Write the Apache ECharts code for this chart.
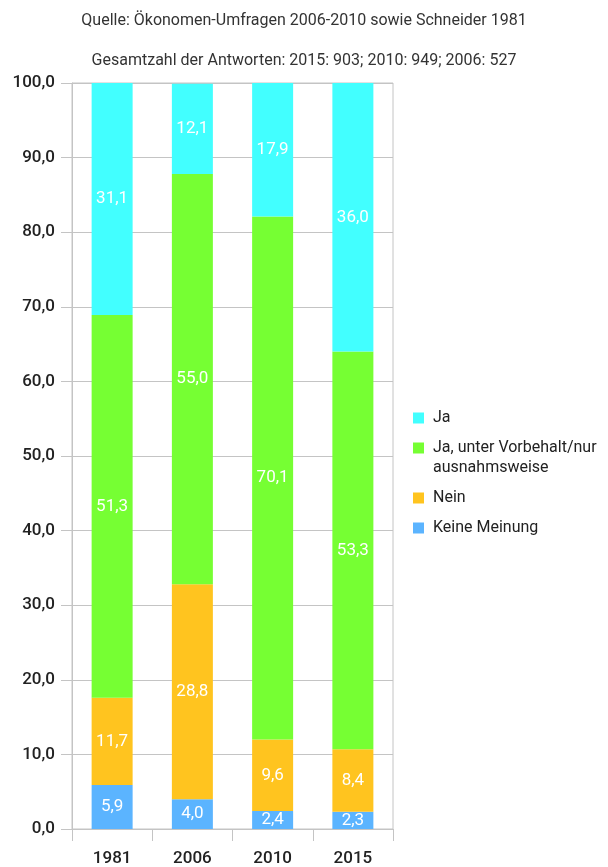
<!DOCTYPE html>
<html><head><meta charset="utf-8">
<script src="https://cdn.jsdelivr.net/npm/echarts@6/dist/echarts.min.js"></script>
<style>html,body{margin:0;padding:0;background:#fff}#c{width:608px;height:867px}</style>
</head><body><div id="c"></div>
<script>
const categories = ['1981', '2006', '2010', '2015'];
const keineMeinung = [5.9, 4.0, 2.4, 2.3];
const nein = [11.7, 28.8, 9.6, 8.4];
const jaVorbehalt = [51.3, 55.0, 70.1, 53.3];
const ja = [31.1, 12.1, 17.9, 36.0];
const seriesNames = ['Keine Meinung', 'Nein', 'Ja, unter Vorbehalt/nur\nausnahmsweise', 'Ja'];
const colors = ['#5BB4FF', '#FFC41F', '#76FF33', '#42FFFF'];
const title1 = 'Quelle: Ökonomen-Umfragen 2006-2010 sowie Schneider 1981';
const title2 = 'Gesamtzahl der Antworten: 2015: 903; 2010: 949; 2006: 527';

const fmt = v => v.toFixed(1).replace('.', ',');
const FONT = 'Roboto';
const chart = echarts.init(document.getElementById('c'));
const mk = (name, data, color) => ({
  name, type: 'bar', stack: 'a', data, barWidth: 41,
  itemStyle: { color },
  label: { show: true, position: 'inside', color: '#fff', fontFamily: FONT, fontSize: 17,
    formatter: p => fmt(p.value) }
});
const legendText = { fontFamily: FONT, fontSize: 16, color: '#222', lineHeight: 20, padding: [0, 0, 0, 4] };
const leg = (name, top, formatter) => {
  const o = {
    orient: 'vertical', left: 413, top, padding: 0, itemWidth: 11, itemHeight: 11,
    icon: 'rect', selectedMode: false, data: [name], textStyle: legendText
  };
  if (formatter) o.formatter = formatter;
  return o;
};
chart.setOption({
  animation: false,
  title: [
    { text: title1, left: 'center', top: 8, textStyle: { fontFamily: FONT, fontSize: 16, fontWeight: 'normal', color: '#333' } },
    { text: title2, left: 'center', top: 48, textStyle: { fontFamily: FONT, fontSize: 16, fontWeight: 'normal', color: '#333' } }
  ],
  grid: { left: 72, right: 215, top: 83, bottom: 38, show: true, borderColor: '#c4c4c4', borderWidth: 1 },
  legend: [
    leg(seriesNames[3], 408),
    leg(seriesNames[2], 418, n => ' \n' + n),
    leg(seriesNames[1], 488),
    leg(seriesNames[0], 518)
  ],
  xAxis: {
    type: 'category', data: categories,
    axisLine: { lineStyle: { color: '#c4c4c4' } },
    axisTick: { show: true, length: 12, lineStyle: { color: '#c4c4c4' } },
    axisLabel: { fontFamily: FONT, fontSize: 17, color: '#222', fontWeight: 500, margin: 21 }
  },
  yAxis: {
    type: 'value', min: 0, max: 100, interval: 10,
    axisLine: { show: true, lineStyle: { color: '#c4c4c4' } },
    axisTick: { show: true, length: 11, lineStyle: { color: '#c4c4c4' } },
    splitLine: { lineStyle: { color: '#c4c4c4' } },
    axisLabel: { fontFamily: FONT, fontSize: 17, color: '#222', fontWeight: 500, margin: 17, formatter: v => fmt(v) }
  },
  series: [
    mk(seriesNames[0], keineMeinung, colors[0]),
    mk(seriesNames[1], nein, colors[1]),
    mk(seriesNames[2], jaVorbehalt, colors[2]),
    mk(seriesNames[3], ja, colors[3])
  ]
});
</script></body></html>
